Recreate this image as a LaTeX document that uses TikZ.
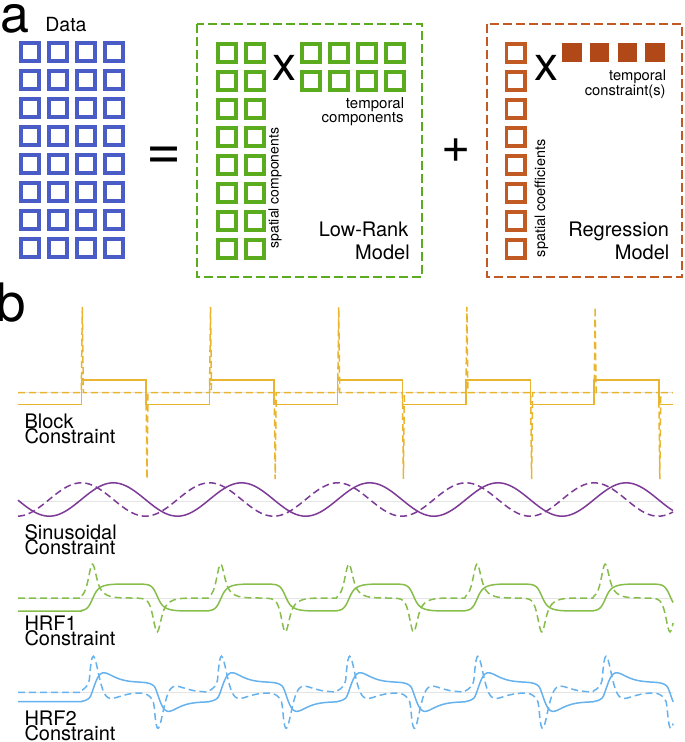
\documentclass[tikz,border=0pt]{standalone}
\usepackage{fontspec}
\setmainfont{TeX Gyre Heros}
\definecolor{cblue}{HTML}{4A5CC5}
\definecolor{cgreen}{HTML}{5AAB1E}
\definecolor{crust}{HTML}{C25A24}
\definecolor{crustd}{HTML}{B04818}
\definecolor{cyel}{HTML}{E9B52F}
\definecolor{cpurp}{HTML}{7D3A96}
\definecolor{chrfa}{HTML}{86BD4B}
\definecolor{chrfb}{HTML}{66B2EE}
\definecolor{cbase}{HTML}{E4E4E4}
\pgfmathdeclarefunction{stp}{1}{\pgfmathparse{1/(1+exp(min(8,max(-8,-(#1)))))}}
\pgfmathdeclarefunction{ra}{1}{\pgfmathparse{0.75*stp(((#1)-11)/2.5)+0.25*stp(((#1)-17)/5)}}
\pgfmathdeclarefunction{pa}{1}{\pgfmathparse{ra(#1)-ra((#1)-64.7)+1-ra((#1)+63.5)}}
\pgfmathdeclarefunction{gb}{1}{\pgfmathparse{((#1)/12)*((#1)/12)*exp(2-(#1)/6)}}
\pgfmathdeclarefunction{rb}{1}{\pgfmathparse{stp(((#1)-13)/3.5)+0.58*gb(min(60,max(0,(#1)-8)))}}
\pgfmathdeclarefunction{pb}{1}{\pgfmathparse{rb(#1)-rb((#1)-64.7)+1-rb((#1)+63.5)}}
% one period of each HRF curve, computed once
\foreach \i in {0,...,127}{%
  \pgfmathsetmacro\ys{611-27*pa(\i)}%
  \pgfmathsetmacro\yd{598-405*(pa(\i+0.5)-pa(\i-0.5))}%
  \expandafter\xdef\csname hAs\i\endcsname{\ys}%
  \expandafter\xdef\csname hAd\i\endcsname{\yd}%
  \pgfmathsetmacro\ys{701.7-19.4*pb(\i)}%
  \pgfmathsetmacro\yd{692.3-238.6*(pb(\i+0.5)-pb(\i-0.5))}%
  \expandafter\xdef\csname hBs\i\endcsname{\ys}%
  \expandafter\xdef\csname hBd\i\endcsname{\yd}%
}
\gdef\pathAs{(18,611) -- (81.3,611)}
\gdef\pathAd{(18,598) -- (81.3,598)}
\gdef\pathBs{(18,701.7) -- (81.3,701.7)}
\gdef\pathBd{(18,692.3) -- (81.3,692.3)}
\foreach \k in {0,...,4}{%
  \foreach \i in {0,...,127}{%
    \pgfmathsetmacro\xx{81.3+128.2*\k+\i}%
    \ifdim\xx pt<673.5pt
      \xdef\pathAs{\pathAs -- (\xx,\csname hAs\i\endcsname)}%
      \xdef\pathAd{\pathAd -- (\xx,\csname hAd\i\endcsname)}%
      \xdef\pathBs{\pathBs -- (\xx,\csname hBs\i\endcsname)}%
      \xdef\pathBd{\pathBd -- (\xx,\csname hBd\i\endcsname)}%
    \fi
  }%
}
\begin{document}
\begin{tikzpicture}[x=1pt,y=-1pt]
\tikzset{
  sqb/.style={draw=cblue, line width=3.6pt, minimum size=18.4pt, inner sep=0pt},
  sqg/.style={sqb, draw=cgreen},
  sqr/.style={sqb, draw=crust},
  sqf/.style={fill=crustd, minimum size=19.5pt, inner sep=0pt},
  txt/.style={inner sep=0pt, outer sep=0pt},
  big/.style={txt, anchor=base west, font=\fontsize{52}{52}\selectfont},
  small/.style={txt, font=\fontsize{15}{15}\selectfont},
  mid/.style={txt, font=\fontsize{20}{20}\selectfont},
  lbl/.style={txt, anchor=base west, font=\fontsize{20}{20}\selectfont},
  boxdash/.style={line width=1.8pt, dash pattern=on 9pt off 4pt},
  curve/.style={line width=1.5pt},
  cdash/.style={line width=1.5pt, dash pattern=on 7pt off 4pt},
  baseln/.style={draw=cbase, line width=1pt}
}
\useasboundingbox (0,0) rectangle (685,742);

% ---------- panel a ----------
\node[big] (pa) at (0.1,32.2) {a};
\node[txt, anchor=base west, font=\fontsize{19.5}{19.5}\selectfont] (data) at (45.4,31.7) {Data};
\foreach \c in {0,...,3}{\foreach \r in {0,...,7}{
  \node[sqb] (d\c\r) at ({30+28*\c},{52+28*\r}) {};}}
\node[txt, anchor=base west, font=\fontsize{60}{60}\selectfont] (eq) at (146.7,169.5) {=};

% low-rank model
\draw[boxdash, draw=cgreen] (197,24) rectangle (422,277);
\foreach \c/\xx in {0/227,1/255}{\foreach \r in {0,...,7}{
  \node[sqg] (gs\c\r) at (\xx,{53+28*\r}) {};}}
\foreach \c in {0,...,3}{\foreach \r in {0,1}{
  \node[sqg] (gt\c\r) at ({311+28*\c},{53+28*\r}) {};}}
\node[txt, anchor=base west, font=\fontsize{48}{48}\selectfont] (xa) at (272.5,80.5) {x};
\node[small, anchor=base east] (tca) at (404.1,108.5) {temporal};
\node[small, anchor=base east] (tcb) at (403.5,122) {components};
\node[txt, font=\fontsize{14}{14}\selectfont, anchor=base west, rotate=90] (sc) at (278.5,248.5) {spatial components};
\node[mid, anchor=base east] (lra) at (408.3,236) {Low-Rank};
\node[mid, anchor=base east] (lrb) at (409.7,259.5) {Model};

\node[txt, anchor=base west, font=\fontsize{50}{50}\selectfont] (plus) at (441,162.5) {+};

% regression model
\draw[boxdash, draw=crust] (487,24) rectangle (682,277);
\foreach \r in {0,...,7}{
  \node[sqr] (rs\r) at (515.5,{53+28*\r}) {};}
\foreach \c in {0,...,3}{
  \node[sqf] (rt\c) at ({572+27.7*\c},52.5) {};}
\node[txt, anchor=base west, font=\fontsize{48}{48}\selectfont] (xb) at (534.5,80.5) {x};
\node[txt, font=\fontsize{14.7}{14.7}\selectfont, anchor=base east] (tra) at (666.1,80.5) {temporal};
\node[txt, font=\fontsize{14.7}{14.7}\selectfont, anchor=base east] (trb) at (665.6,95.5) {constraint(s)};
\node[txt, font=\fontsize{14.4}{14.4}\selectfont, anchor=base west, rotate=90] (scf) at (545,257) {spatial coefficients};
\node[mid, anchor=base east] (rga) at (669,236) {Regression};
\node[mid, anchor=base east] (rgb) at (669.4,259.5) {Model};

% ---------- panel b ----------
\node[txt, anchor=base west, font=\fontsize{53}{53}\selectfont] (pb) at (-3.1,321) {b};

% block
\draw[baseln] (18,392.5) -- (673,392.5);
\draw[cdash, draw=cyel] (18,392.5) foreach \k in {0,...,4}{
   -- ({81.3+128.2*\k},392.5) -- ({82.3+128.2*\k},307) -- ({83.3+128.2*\k},392.5)
   -- ({146+128.2*\k},392.5) -- ({147+128.2*\k},479) -- ({148+128.2*\k},392.5)} -- (673,392.5);
\draw[curve, draw=cyel] (18,404.3) foreach \k in {0,...,4}{
   -- ({81.3+128.2*\k},404.3) -- ({81.3+128.2*\k},380)
   -- ({146+128.2*\k},380) -- ({146+128.2*\k},404.3)} -- (673,404.3);
\node[lbl] (bl1) at (24.5,428) {Block};
\node[lbl] (bl2) at (24.5,443) {Constraint};

% sinusoid
\draw[baseln] (18,501) -- (673,501);
\draw[cdash, draw=cpurp] plot[domain=18:673, samples=220] (\x,{499.5-16.7*cos(2.80811*(\x-81.3))});
\draw[curve, draw=cpurp] plot[domain=18:673, samples=220] (\x,{499.5-16.7*sin(2.80811*(\x-81.3))});
\node[lbl] (sn1) at (24.5,539.5) {Sinusoidal};
\node[lbl] (sn2) at (24.5,554) {Constraint};

% HRF1
\draw[baseln] (18,598) -- (673,598);
\edef\tmp{\noexpand\draw[cdash, draw=chrfa] \pathAd;}\tmp
\edef\tmp{\noexpand\draw[curve, draw=chrfa] \pathAs;}\tmp
\node[lbl] (ha1) at (24.5,630) {HRF1};
\node[lbl] (ha2) at (24.5,645) {Constraint};

% HRF2
\draw[baseln] (18,692.3) -- (673,692.3);
\edef\tmp{\noexpand\draw[cdash, draw=chrfb] \pathBd;}\tmp
\edef\tmp{\noexpand\draw[curve, draw=chrfb] \pathBs;}\tmp
\node[lbl] (hb1) at (24.5,725) {HRF2};
\node[lbl] (hb2) at (24.5,740) {Constraint};
\end{tikzpicture}
\end{document}
